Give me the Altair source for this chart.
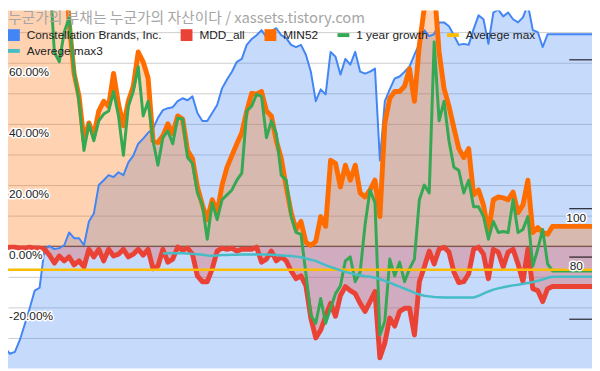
import altair as alt
import pandas as pd

# ---- data (one sample every 5 px of the original chart) ----
# Constellation Brands, Inc. share price (own, hidden axis)
blue_price = [
    34.3, 42.4, 40.0, 40.8, 45.7, 52.2, 58.8, 66.1, 67.3, 83.3,
    84.5, 83.3, 83.7, 84.9, 90.2, 87.8, 87.8, 84.9, 94.7, 98.0,
    109.8, 111.8, 113.9, 113.1, 115.1, 113.9, 119.2, 122.0, 126.9, 129.0,
    131.4, 133.1, 137.6, 140.8, 141.6, 142.0, 144.5, 145.7, 144.9, 146.5,
    139.6, 136.3, 136.3, 139.6, 142.9, 149.8, 153.5, 156.7, 160.8, 162.0,
    167.8, 170.2, 171.8, 173.9, 171.0, 173.5, 174.7, 171.8, 170.6, 167.8,
    166.9, 167.8, 163.7, 156.7, 144.5, 149.4, 147.3, 164.9, 162.9, 155.5,
    162.0, 159.6, 164.9, 156.7, 155.9, 156.7, 158.0, 120.0, 144.5, 149.4,
    153.9, 154.7, 156.7, 158.8, 163.7, 168.2, 173.9, 171.4, 172.2, 177.1,
    177.1, 175.5, 171.8, 167.8, 168.2, 167.8, 174.3, 180.0, 178.4, 168.2,
    181.2, 182.4, 179.6, 181.2, 178.4, 177.1, 179.2, 184.5, 173.9, 173.1,
    166.9, 172.2, 172.2, 172.2, 172.2, 172.2, 172.2, 172.2, 172.2, 172.2,
    172.2,
]
# MDD_all (%)
mdd_all = [
    -0.3, -0.6, -0.3, -0.3, -0.6, -0.6, -0.3, -0.6, -0.6, -1.0,
    -2.9, -5.5, -3.2, -4.8, -3.5, -6.1, -4.8, -6.8, -1.0, -3.5,
    -1.0, -4.8, -1.0, -3.2, -2.6, -1.0, -3.5, -2.6, -1.0, -2.9,
    -1.0, -7.4, -6.5, -1.0, -5.2, -4.2, -0.3, -1.3, -0.6, -2.6,
    -9.7, -11.6, -11.6, -7.4, -1.6, -0.6, -1.0, -0.6, -1.6, -1.0,
    -1.0, -1.0, -0.3, -5.2, -4.2, -1.6, -4.8, -3.5, -4.8, -8.1,
    -10.6, -9.7, -12.9, -23.5, -30.0, -27.4, -22.9, -18.7, -22.9, -16.1,
    -13.2, -14.5, -15.5, -18.7, -21.3, -18.1, -14.8, -36.5, -31.6, -23.5,
    -26.1, -21.3, -20.3, -20.3, -29.0, -11.6, -6.8, -1.6, -5.8, -1.0,
    -0.3, -1.9, -8.4, -11.9, -11.6, -9.0, -1.0, -0.3, -2.6, -10.6,
    -1.0, -1.9, -6.8, -1.9, -1.0, -5.8, -11.6, -1.0, -13.9, -14.5,
    -18.1, -13.9, -13.2, -13.2, -13.2, -13.2, -13.2, -13.2, -13.2, -13.2,
    -13.2,
]
# MIN52 (%)
min52 = [
    95, 95, 95, 95, 95, 95, 95, 95, 95, 95,
    95, 95, 95, 95, 73.2, 56.5, 49.0, 34.5, 40.3, 36.1,
    44.2, 47.4, 45.8, 56.5, 46.5, 39.4, 47.4, 52.3, 63.5, 60.3,
    55.0, 34.5, 33.9, 36.1, 40.0, 36.8, 42.6, 41.6, 31.3, 28.7,
    19.4, 13.5, 8.7, 15.2, 11.0, 20.0, 25.8, 29.7, 33.5, 37.1,
    44.2, 50.0, 49.7, 50.6, 44.2, 42.6, 34.5, 28.7, 19.4, 11.0,
    5.5, 8.1, 1.3, 0.3, 1.6, 9.7, 6.5, 28.1, 27.1, 19.4,
    26.5, 21.6, 26.5, 17.4, 16.1, 18.4, 21.6, 9.7, 40.3, 48.4,
    50.6, 50.6, 52.3, 58.1, 47.4, 65.8, 78.0, 82.0, 85.0, 63.5,
    51.6, 45.8, 38.7, 31.9, 29.0, 31.9, 16.8, 18.4, 13.5, 4.5,
    15.2, 16.1, 15.8, 15.2, 17.7, 11.0, 13.5, 21.6, 4.5, 6.1,
    4.5, 3.9, 6.5, 6.5, 6.5, 6.5, 6.5, 6.5, 6.5, 6.5,
    6.5,
]
# 1 year growth (%)
growth_1y = [
    90, 90, 90, 90, 90, 90, 90, 90, 90, 90,
    90, 63.5, 60.3, 70.0, 74.8, 57.1, 47.4, 31.3, 40.0, 34.5,
    41.0, 43.2, 44.2, 50.6, 42.6, 29.7, 45.8, 50.6, 58.7, 42.6,
    47.4, 34.5, 26.5, 35.5, 37.7, 33.5, 41.9, 41.6, 29.0, 27.1,
    17.4, 13.5, 2.3, 14.2, 8.7, 15.2, 16.8, 18.4, 21.6, 23.9,
    44.2, 45.8, 49.7, 49.0, 35.5, 41.0, 36.8, 23.2, 21.6, 9.7,
    4.5, 3.9, -9.0, -22.6, -25.2, -17.1, -25.2, -20.3, -15.5, -12.9,
    -4.8, -3.5, -11.6, -8.4, 7.1, 18.4, 14.2, -29.0, -24.5, -4.2,
    -9.7, -5.2, -11.6, -7.4, -4.2, 15.2, 20.0, 17.4, 66.8, 41.0,
    47.4, 34.5, 25.8, 24.8, 17.4, 21.6, 12.9, 12.9, 9.7, 2.3,
    8.1, 4.5, 4.8, 4.5, 15.2, 4.5, 5.5, 9.7, -6.5, -1.0,
    5.5, -5.8, -8.1, -8.1, -8.1, -8.1, -8.1, -8.1, -8.1, -8.1,
    -8.1,
]
# Averege max3 (%), starts later
avg_max3 = [None] * 33 + [
    -2.4, -2.3, -2.3, -2.3, -2.3, -2.4, -2.5, -2.6, -2.8, -3.0,
    -3.1, -3.0, -2.9, -2.9, -2.8, -2.8, -2.7, -2.7, -2.7, -2.7,
    -2.7, -2.7, -2.8, -2.9, -3.0, -3.1, -3.2, -3.4, -3.6, -4.0,
    -4.4, -4.8, -5.5, -6.2, -6.8, -7.3, -7.9, -8.4, -8.8, -9.2,
    -9.5, -9.8, -10.0, -10.3, -10.8, -11.3, -11.9, -12.6, -13.2, -13.9,
    -14.5, -15.2, -15.8, -16.2, -16.4, -16.6, -16.7, -16.8, -16.8, -16.8,
    -16.8, -16.8, -16.8, -16.8, -16.2, -15.5, -14.8, -14.2, -13.8, -13.4,
    -13.1, -12.8, -12.6, -12.3, -12.0, -11.7, -11.3, -10.9, -10.3, -10.0,
    -10.0, -10.0, -10.0, -10.0, -10.0, -10.0, -10.0, -10.0,
]
avg_max = [-7.7]          # Averege max (%)
baseline = [0]

series_names = ["Constellation Brands, Inc.", "MDD_all", "MIN52",
                "1 year growth", "Averege max", "Averege max3"]
series_colors = ["#4285F4", "#EA4335", "#FF6D01", "#34A853", "#FBBC04", "#46BDC6"]
BAR = "M-1,-0.33H1V0.33H-1Z"
series_shapes = ["square", "square", "square", BAR, BAR, BAR]

grid_values = [-30, -20, -10, 0, 10, 20, 30, 40, 50, 60, 70]
left_ticks = [60, 40, 20, 0, -20]
right_ticks = [161.6, 100.0, 80.0, 54.3]
right_labels = [100, 80]

TITLE = "누군가의 부채는 누군가의 자산이다 / xassets.tistory.com"

# ---- tables ----
n = len(blue_price)
assert all(len(s) == n for s in (mdd_all, min52, growth_1y, avg_max3))
df = pd.DataFrame({
    "t": list(range(n)),
    "price": blue_price,
    "mdd": mdd_all,
    "min52": min52,
    "growth": growth_1y,
    "avg3": avg_max3,
})
df_base = pd.DataFrame({"v": baseline})
df_avg = pd.DataFrame({"v": avg_max})
df_leg = pd.DataFrame({"series": series_names})
df_left = pd.DataFrame({"v": left_ticks, "lab": [f"{v:.2f}%" for v in left_ticks]})
df_rt = pd.DataFrame({"v": right_ticks})
df_rl = pd.DataFrame({"v": right_labels, "lab": [str(v) for v in right_labels]})
df_title = pd.DataFrame({"txt": [TITLE]})

W, H = 592, 363
XS = alt.Scale(domain=[1.6, 120], nice=False, zero=False)
PCT = alt.Scale(domain=[-40, 77.097], nice=False, zero=False)
PRICE = alt.Scale(domain=[33.88, 182.04], nice=False, zero=False)
FONT = "Liberation Sans"

X = alt.X("t:Q", scale=XS, axis=None)
pct_axis = alt.Axis(values=grid_values, grid=True, gridColor="#cccccc", gridWidth=1,
                    labels=False, ticks=False, domain=False, title=None)


def YP(field, axis=True):
    return alt.Y(f"{field}:Q", scale=PCT, axis=pct_axis if axis else None)


def YB(field):
    return alt.Y(f"{field}:Q", scale=PRICE, axis=None)


base = alt.Chart(df)

# ---- 1: Constellation Brands area (own scale) ----
blue_area = base.mark_area(color="#4285F4", opacity=0.3, clip=True).encode(
    x=X, y=YB("price"), y2=alt.datum(0))

# ---- 2: percent areas, with grid ----
pct_areas = alt.layer(
    alt.Chart(df_base).mark_rule(color="#333333", strokeWidth=1).encode(y=YP("v")),
    base.mark_area(color="#EA4335", opacity=0.3, clip=True).encode(x=X, y=YP("mdd"), y2=alt.datum(0)),
    base.mark_area(color="#FF6D01", opacity=0.3, clip=True).encode(x=X, y=YP("min52"), y2=alt.datum(0)),
)

# ---- 3: Constellation Brands line ----
blue_line = base.mark_line(color="#4285F4", strokeWidth=2, clip=True, strokeJoin="round").encode(
    x=X, y=YB("price"))

# ---- 4: percent lines, legend, left labels ----
leg = alt.Legend(title=None, orient="none", legendX=0, legendY=19, direction="horizontal",
                 columns=5, columnPadding=19, rowPadding=4, symbolSize=144,
                 symbolStrokeWidth=0, symbolOpacity=1, labelFont=FONT, labelFontSize=12,
                 labelColor="#222222", labelOffset=7, padding=0, labelLimit=300)

pct_lines = alt.layer(
    base.mark_line(color="#EA4335", strokeWidth=5, clip=True, strokeJoin="round").encode(x=X, y=YP("mdd", False)),
    base.mark_line(color="#FF6D01", strokeWidth=5, clip=True, strokeJoin="round").encode(x=X, y=YP("min52", False)),
    base.mark_line(color="#34A853", strokeWidth=3, clip=True, strokeJoin="round").encode(x=X, y=YP("growth", False)),
    alt.Chart(df_avg).mark_rule(color="#FBBC04", strokeWidth=2.5).encode(y=YP("v", False)),
    base.mark_line(color="#46BDC6", strokeWidth=2.5, clip=True, strokeJoin="round").encode(x=X, y=YP("avg3", False)),
    alt.Chart(df_leg).mark_point(filled=True, opacity=1, size=144).encode(
        x=alt.value(-200), y=alt.value(-200),
        color=alt.Color("series:N", scale=alt.Scale(domain=series_names, range=series_colors), legend=leg),
        shape=alt.Shape("series:N", scale=alt.Scale(domain=series_names, range=series_shapes), legend=leg),
    ),
    alt.Chart(df_left).mark_text(align="left", baseline="alphabetic", dy=13, font=FONT, fontSize=12,
                                 stroke="white", strokeWidth=3, strokeJoin="round").encode(
        x=alt.value(1), y=YP("v", False), text="lab:N"),
    alt.Chart(df_left).mark_text(align="left", baseline="alphabetic", dy=13, font=FONT, fontSize=12,
                                 color="#222222").encode(
        x=alt.value(1), y=YP("v", False), text="lab:N"),
)

# ---- 5: right-hand ticks and labels, chart title ----
right_layer = alt.layer(
    alt.Chart(df_rt).mark_rule(color="#000000", strokeWidth=1).encode(
        y=YB("v"), x=alt.value(569), x2=alt.value(W)),
    alt.Chart(df_rl).mark_text(align="center", baseline="alphabetic", dy=13, font=FONT, fontSize=12,
                               stroke="white", strokeWidth=3, strokeJoin="round").encode(
        y=YB("v"), x=alt.value(576), text="lab:N"),
    alt.Chart(df_rl).mark_text(align="center", baseline="alphabetic", dy=13, font=FONT, fontSize=12,
                               color="#222222").encode(
        y=YB("v"), x=alt.value(576), text="lab:N"),
    alt.Chart(df_title).mark_text(align="left", baseline="middle", font="Noto Sans CJK KR",
                                  fontSize=15, color="#a6a6a6").encode(
        x=alt.value(0), y=alt.value(8), text="txt:N"),
)

chart = alt.layer(blue_area, pct_areas, blue_line, pct_lines, right_layer).resolve_scale(
    y="independent"
).properties(
    width=W, height=H,
    autosize=alt.AutoSizeParams(type="none"),
    padding=0,
    background="white",
).configure_view(stroke=None)

chart.save("out.html", embed_options={"renderer": "svg", "actions": False})
